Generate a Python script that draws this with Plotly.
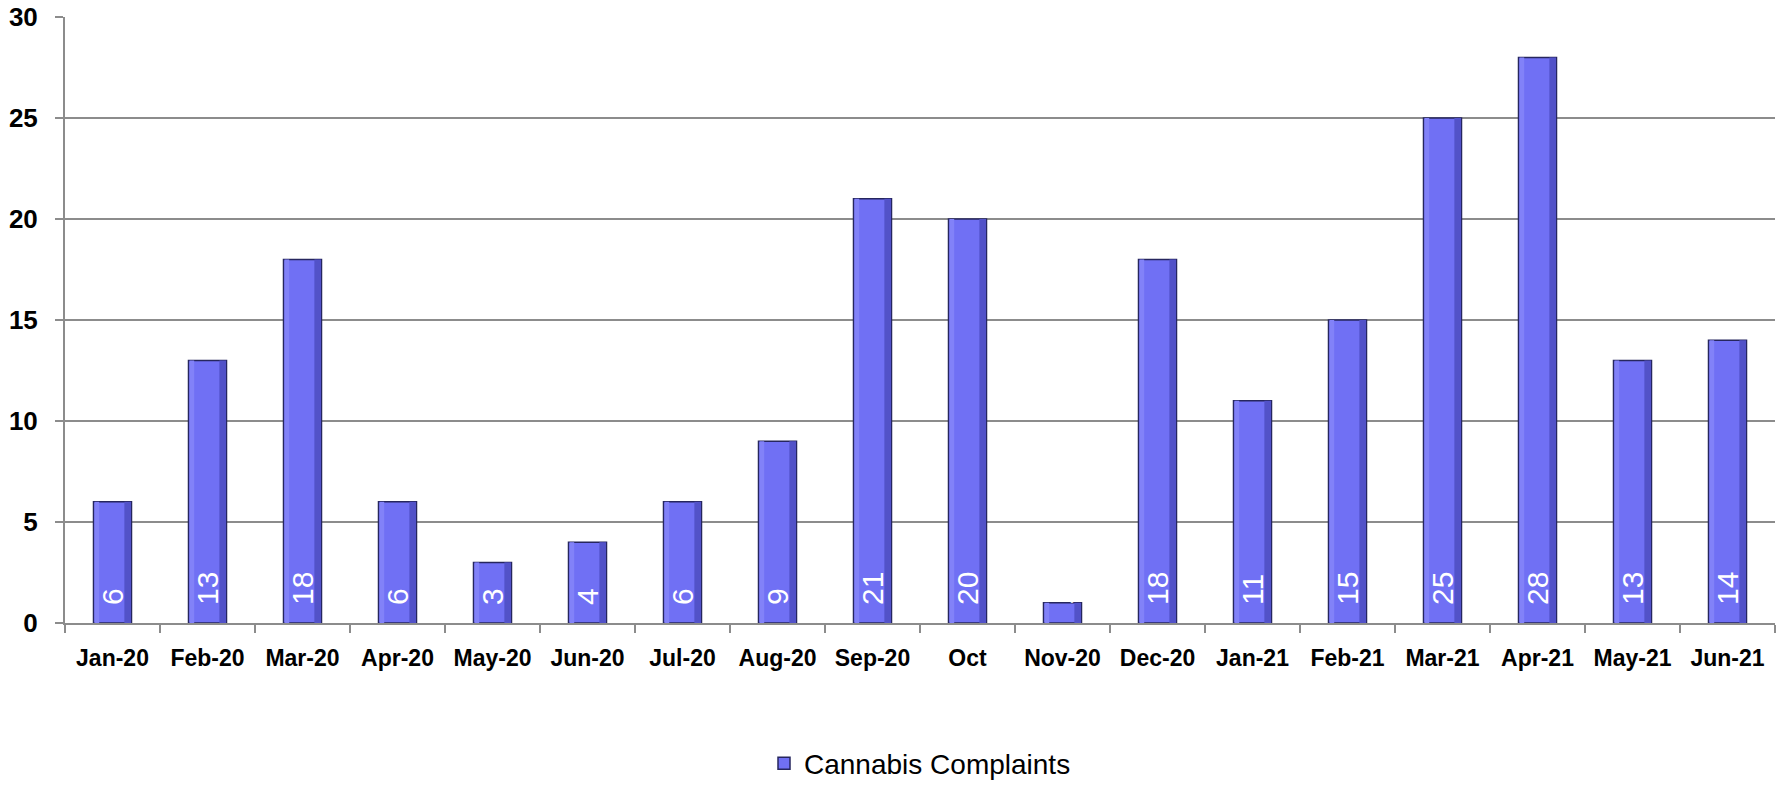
import plotly.graph_objects as go

categories = ["Jan-20", "Feb-20", "Mar-20", "Apr-20", "May-20", "Jun-20", "Jul-20", "Aug-20",
              "Sep-20", "Oct", "Nov-20", "Dec-20", "Jan-21", "Feb-21", "Mar-21", "Apr-21",
              "May-21", "Jun-21"]
complaints = [6, 13, 18, 6, 3, 4, 6, 9, 21, 20, 1, 18, 11, 15, 25, 28, 13, 14]
y_ticks = [0, 5, 10, 15, 20, 25, 30]
series_name = "Cannabis Complaints"

FONT = "Liberation Sans, Arial, sans-serif"

fig = go.Figure()
fig.add_trace(go.Bar(
    x=categories, y=complaints, name=series_name,
    width=0.4, offset=-0.2,
    marker=dict(color="#7070F4", line=dict(color="#26265E", width=1.5)),
    texttemplate="\u2002%{y}",
    textposition="inside", insidetextanchor="start", textangle=-90,
    constraintext="none",
    textfont=dict(family=FONT, size=30, color="white"),
    cliponaxis=False,
))
# bevel edges
fig.add_trace(go.Bar(
    x=categories, y=complaints, width=0.07, offset=0.125,
    marker=dict(color="#5252C8", line=dict(width=0)),
    showlegend=False, hoverinfo="skip",
))
fig.add_trace(go.Bar(
    x=categories, y=complaints, width=0.05, offset=-0.19,
    marker=dict(color="#8282F8", line=dict(width=0)),
    showlegend=False, hoverinfo="skip",
))

fig.update_layout(
    width=1777, height=785,
    barmode="overlay",
    margin=dict(l=65, r=2, t=17, b=162, autoexpand=False),
    plot_bgcolor="white", paper_bgcolor="white",
    showlegend=True,
    legend=dict(orientation="h", x=0.5, xanchor="center", y=-0.232, yanchor="middle",
                font=dict(family=FONT, size=28, color="black"),
                itemwidth=30, borderwidth=0),
    xaxis=dict(
        type="category", tickson="boundaries", ticks="outside", ticklen=8, tickwidth=2,
        tickcolor="#8C8C8C", showline=True, linecolor="#8C8C8C", linewidth=2,
        showgrid=False, ticklabelstandoff=13,
        tickfont=dict(family=FONT, size=23, color="black", weight="bold"),
        range=[-0.5, len(categories) - 0.5],
    ),
    yaxis=dict(
        range=[0, 30], tickvals=y_ticks, ticks="outside", ticklen=8, tickwidth=2,
        tickcolor="#8C8C8C", showline=True, linecolor="#8C8C8C", linewidth=2,
        showgrid=True, gridcolor="#8C8C8C", gridwidth=2, zeroline=False,
        ticklabelstandoff=12,
        tickfont=dict(family=FONT, size=26, color="black", weight="bold"),
    ),
)

fig.write_html("out.html")
